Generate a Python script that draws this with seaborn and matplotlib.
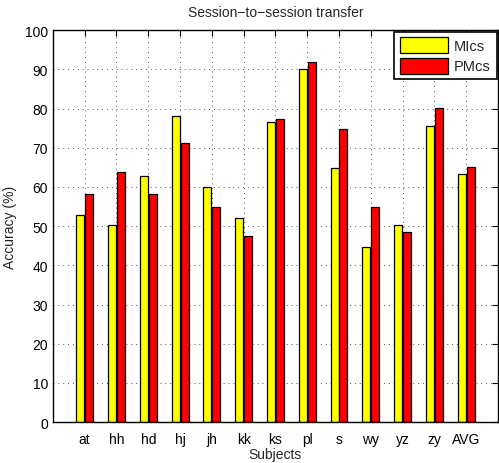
import pandas as pd
import matplotlib
matplotlib.use("Agg")
import matplotlib.pyplot as plt
import seaborn as sns

subjects = ["at", "hh", "hd", "hj", "jh", "kk", "ks", "pl", "s", "wy", "yz", "zy", "AVG"]
mics = [52.9, 50.2, 62.8, 78.1, 60.1, 52.0, 76.5, 90.1, 64.7, 44.7, 50.2, 75.5, 63.3]
pmcs = [58.3, 63.8, 58.3, 71.1, 54.8, 47.4, 77.3, 91.8, 74.7, 54.8, 48.4, 80.1, 65.1]
methods = ["MIcs", "PMcs"]
colors = ["#ffff00", "#ff0000"]

df = pd.DataFrame({
    "Subject": subjects * 2,
    "Method": [methods[0]] * len(subjects) + [methods[1]] * len(subjects),
    "Accuracy": mics + pmcs,
})

sns.set_style("white")
plt.rcParams["font.family"] = ["Liberation Sans", "DejaVu Sans"]

fig = plt.figure(figsize=(4.99, 4.64), dpi=100)
ax = fig.add_axes([0.106, 0.088, 0.892, 0.845])

sns.barplot(
    data=df, x="Subject", y="Accuracy", hue="Method",
    palette=colors, saturation=1, width=0.56, gap=0.1,
    edgecolor="black", linewidth=0.9, ax=ax, legend=True,
)

ax.set_xlim(-1, 13)
ax.set_ylim(0, 100)
ax.set_yticks(range(0, 101, 10))
ax.grid(True, color="#555555", linestyle=(0, (1, 4)), linewidth=0.7)
ax.set_axisbelow(True)
ax.tick_params(direction="in", length=4, width=0.8, top=True, right=True,
               labelsize=10, colors="black")
ax.tick_params(axis="x", pad=7)
for s in ax.spines.values():
    s.set_visible(True)
    s.set_color("black")
    s.set_linewidth(1.0)

ax.set_title("Session\u2212to\u2212session transfer", fontsize=10, pad=10)
ax.set_xlabel("Subjects", fontsize=10, labelpad=1)
ax.set_ylabel("Accuracy (%)", fontsize=10, labelpad=6)

leg = ax.legend(loc="upper right", borderaxespad=0.1, fontsize=10.5,
                fancybox=False, framealpha=1, edgecolor="black",
                handlelength=3.3, handleheight=1.3, borderpad=0.4,
                labelspacing=0.3, handletextpad=0.4)
leg.get_frame().set_linewidth(1.2)

fig.savefig("out.png", dpi=100)
